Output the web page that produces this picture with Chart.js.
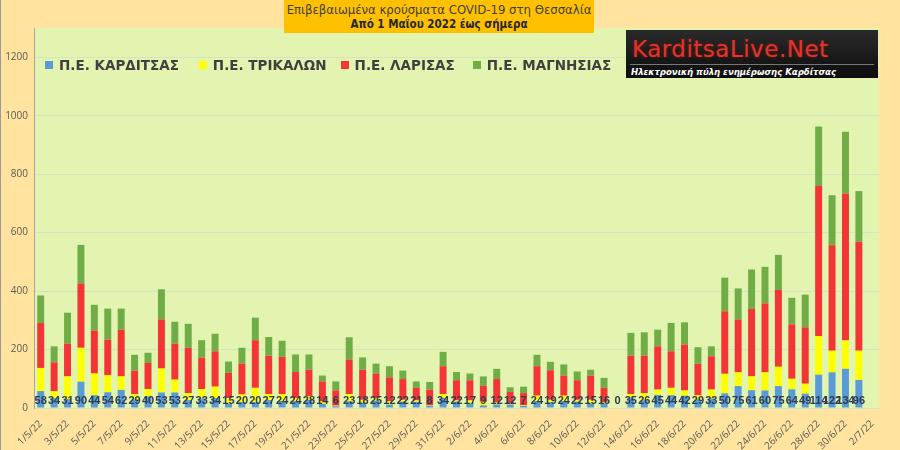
<!DOCTYPE html>
<html>
<head>
<meta charset="utf-8">
<script src="https://cdn.jsdelivr.net/npm/chart.js@4"></script>
<style>
  body { margin: 0; background: #FFE39E; }
  #wrap { position: relative; width: 900px; height: 450px; background: #FFE39E; box-sizing: border-box; border-left: 1px solid #9a9a9a; }
  #c { position: absolute; left: 0; top: 0; }
  #title {
    position: absolute; left: 283px; top: 0; width: 310px; height: 33px;
    background: #FFC000; text-align: center; color: #404040;
    font-family: "DejaVu Sans Condensed", "Liberation Sans Narrow", "DejaVu Sans", sans-serif;
    font-stretch: condensed; font-size: 13px; line-height: 14px; padding-top: 3px; box-sizing: border-box;
  }
  #title b { color: #262626; font-size: 11.5px; }
  #logo {
    position: absolute; left: 625px; top: 30px; width: 252px; height: 48px;
    background: linear-gradient(#2a2a2a, #0d0d0d); box-sizing: border-box; overflow: hidden;
    font-family: "DejaVu Sans", sans-serif;
  }
  #logo .name { position: absolute; left: 6px; top: 6px; font-size: 23px; color: #e3342b; letter-spacing: 0.5px; text-shadow: 0 0 3px #7a1b15; }
  #logo .line { position: absolute; left: 4px; right: 4px; top: 34px; border-top: 1px solid #777; }
  #logo .sub { position: absolute; left: 5px; top: 36px; font-size: 9.5px; color: #fff; font-style: italic; font-weight: bold; font-family: "DejaVu Sans Condensed", "DejaVu Sans", sans-serif; font-stretch: condensed; }
  #legend { position: absolute; left: 44px; top: 57px; display: flex; font: bold 13.5px "DejaVu Sans", sans-serif; color: #404040; }
  #legend .item { display: flex; align-items: center; white-space: nowrap; }
  #legend .box { width: 8px; height: 8px; margin-right: 6px; }
</style>
</head>
<body>
<div id="wrap">
  <canvas id="c" width="900" height="450"></canvas>
  <div id="legend"></div>
  <div id="title">Επιβεβαιωμένα κρούσματα COVID-19 στη Θεσσαλία<br><b>Από 1 Μαΐου 2022 έως σήμερα</b></div>
  <div id="logo"><div class="name">KarditsaLive.Net</div><div class="line"></div><div class="sub">Ηλεκτρονική πύλη ενημέρωσης Καρδίτσας</div></div>
</div>
<script>
const days = [
  "1/5/22","2/5/22","3/5/22","4/5/22","5/5/22","6/5/22","7/5/22","8/5/22","9/5/22","10/5/22",
  "11/5/22","12/5/22","13/5/22","14/5/22","15/5/22","16/5/22","17/5/22","18/5/22","19/5/22","20/5/22",
  "21/5/22","22/5/22","23/5/22","24/5/22","25/5/22","26/5/22","27/5/22","28/5/22","29/5/22","30/5/22",
  "31/5/22",
  "1/6/22","2/6/22","3/6/22","4/6/22","5/6/22","6/6/22","7/6/22","8/6/22","9/6/22","10/6/22",
  "11/6/22","12/6/22","13/6/22","14/6/22","15/6/22","16/6/22","17/6/22","18/6/22","19/6/22","20/6/22",
  "21/6/22","22/6/22","23/6/22","24/6/22","25/6/22","26/6/22","27/6/22","28/6/22","29/6/22","30/6/22",
  "1/7/22","2/7/22"
];

const karditsa = [
  58,34,31,90,44,54,62,29,40,53, 53,27,33,34,15,20,20,27,24,24, 28,14,6,23,18,25,12,22,21,8, 34,
  22,17,9,12,12,7,24,19,24,22, 15,16,0,35,26,45,44,42,29,33, 50,75,61,60,75,64,49,114,122,134,
  96,null
];
const trikala = [
  79,23,77,116,74,58,46,19,25,82, 44,24,32,39,19,26,49,21,24,10, 12,9,2,25,10,9,11,6,5,2, 14,
  4,9,12,7,3,2,18,9,18,6, 13,3,0,13,25,18,25,18,14,30, 67,47,47,62,66,36,34,132,74,97,
  100,null
];
const larisa = [
  154,99,112,220,147,122,160,80,89,168, 123,155,107,121,86,106,163,131,127,89, 91,68,52,118,103,84,82,71,43,53, 95,
  69,69,55,80,40,42,101,101,69,67, 83,50,0,131,128,148,125,157,108,114, 214,181,231,236,263,186,193,514,361,503,
  373,null
];
const magnisia = [
  94,55,106,132,88,106,72,54,35,103, 75,82,60,60,39,54,77,64,55,60, 52,20,31,76,42,34,38,29,22,26, 49,
  28,23,32,35,16,22,39,29,38,30, 20,34,0,78,80,57,97,76,57,34, 115,106,135,125,120,91,112,203,171,211,
  173,null
];

// space after each legend entry, like the Excel legend columns
const legendGaps = [20, 14, 18, 0];

// green plot area
const plotBg = {
  id: 'plotBg',
  beforeDraw(chart) {
    const a = chart.chartArea;
    const ctx = chart.ctx;
    ctx.save();
    ctx.fillStyle = '#E3F4B1';
    ctx.fillRect(a.left, a.top, a.right - a.left, a.bottom - a.top);
    ctx.restore();
  }
};

// Karditsa numbers at the foot of each bar
const footLabels = {
  id: 'footLabels',
  afterDatasetsDraw(chart) {
    const ctx = chart.ctx;
    const meta = chart.getDatasetMeta(0);
    const y0 = chart.scales.y.getPixelForValue(0);
    ctx.save();
    ctx.font = 'bold 11px "Liberation Sans", sans-serif';
    ctx.fillStyle = '#2E3B4E';
    ctx.textAlign = 'center';
    ctx.textBaseline = 'alphabetic';
    meta.data.forEach((bar, i) => {
      const v = karditsa[i];
      if (v === null) return;
      ctx.fillText(String(v), bar.x, y0 - 4);
    });
    ctx.restore();
  }
};

// legend built from the chart's datasets
const htmlLegend = {
  id: 'htmlLegend',
  afterUpdate(chart) {
    const box = document.getElementById('legend');
    box.innerHTML = '';
    chart.data.datasets.forEach((ds, i) => {
      const item = document.createElement('div');
      item.className = 'item';
      item.style.marginRight = legendGaps[i] + 'px';
      const sq = document.createElement('span');
      sq.className = 'box';
      sq.style.background = ds.backgroundColor;
      const txt = document.createElement('span');
      txt.textContent = ds.label;
      item.appendChild(sq);
      item.appendChild(txt);
      box.appendChild(item);
    });
  }
};

new Chart(document.getElementById('c').getContext('2d'), {
  type: 'bar',
  data: {
    labels: days,
    datasets: [
      { label: 'Π.Ε. ΚΑΡΔΙΤΣΑΣ', data: karditsa, backgroundColor: '#5B9BD5' },
      { label: 'Π.Ε. ΤΡΙΚΑΛΩΝ', data: trikala, backgroundColor: '#FFFF00' },
      { label: 'Π.Ε. ΛΑΡΙΣΑΣ', data: larisa, backgroundColor: '#F33535' },
      { label: 'Π.Ε. ΜΑΓΝΗΣΙΑΣ', data: magnisia, backgroundColor: '#70AD47' }
    ]
  },
  options: {
    responsive: false,
    animation: false,
    layout: { padding: { top: 28, right: 22, left: 0, bottom: 0 } },
    datasets: { bar: { categoryPercentage: 1, barPercentage: 0.52 } },
    plugins: {
      legend: { display: false },
      tooltip: { enabled: false }
    },
    scales: {
      x: {
        stacked: true,
        grid: { display: false },
        border: { display: false },
        afterFit(scale) { scale.height = 42; },
        ticks: {
          autoSkip: false,
          minRotation: 45,
          maxRotation: 45,
          padding: 2,
          color: '#595959',
          font: { family: '"Open Sans", sans-serif', size: 10 },
          callback: function(val, i) { return i % 2 === 0 ? days[i] : ''; }
        }
      },
      y: {
        stacked: true,
        min: 0,
        max: 1300,
        afterFit(scale) { scale.width = 33; },
        grid: { color: '#D6E2C4', drawTicks: false },
        border: { display: true, color: '#A6A6A6' },
        ticks: {
          stepSize: 200,
          includeBounds: false,
          padding: 6,
          color: '#595959',
          font: { family: '"Open Sans", sans-serif', size: 10 },
          callback: function(v) { return String(v); }
        }
      }
    }
  },
  plugins: [plotBg, footLabels, htmlLegend]
});
</script>
</body>
</html>
